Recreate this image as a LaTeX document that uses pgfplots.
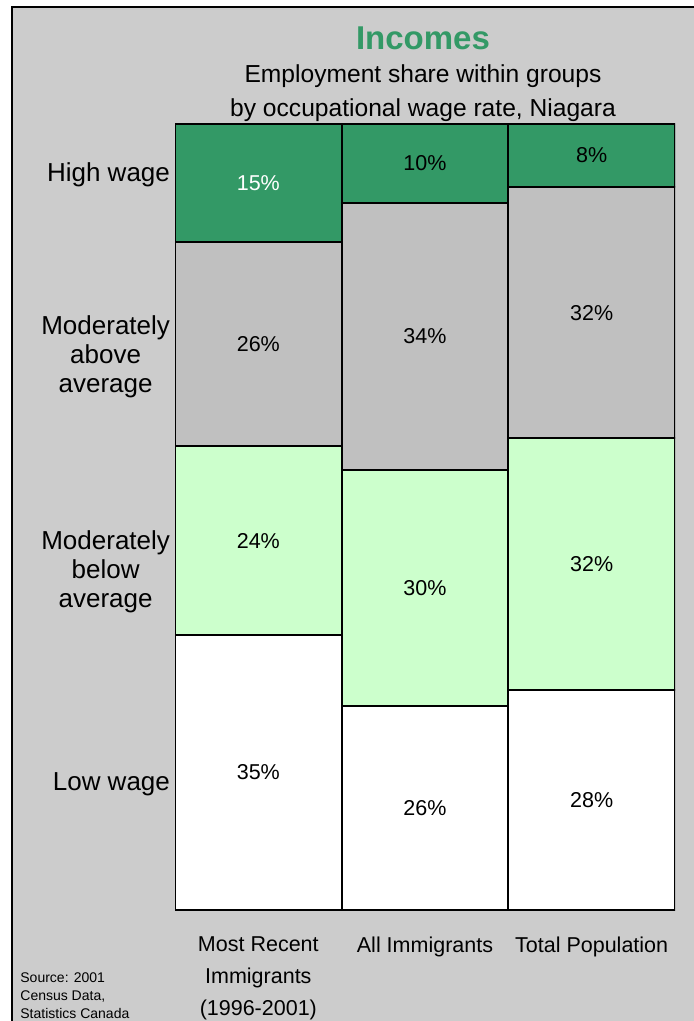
\documentclass[border=0pt]{standalone}
\usepackage{pgfplots}
\pgfplotsset{compat=1.18}
\usepackage{fontspec}
\setmainfont{Liberation Sans}
\definecolor{bggray}{HTML}{CCCCCC}
\definecolor{hiwage}{HTML}{339966}
\definecolor{abovegray}{HTML}{C0C0C0}
\definecolor{belowgreen}{HTML}{CCFFCC}
\begin{document}
\begin{tikzpicture}
\useasboundingbox (0pt,0pt) rectangle (347pt,-510.5pt);
\clip (0pt,0pt) rectangle (347pt,-510.5pt);
\fill[white] (0pt,0pt) rectangle (347pt,-510.5pt);
\draw[fill=bggray, line width=1pt] (6pt,-3.5pt) rectangle (360pt,-530pt);
\begin{axis}[
  at={(87.5pt,-455pt)}, anchor=south west,
  scale only axis, width=250pt, height=393pt,
  ybar stacked, bar width=1,
  xmin=-0.5, xmax=2.5, ymin=0, ymax=100,
  axis line style={draw=none}, tick style={draw=none},
  xtick={0,1,2},
  xticklabels={{Most Recent\\Immigrants\\(1996-2001)},{All Immigrants},{Total Population}},
  xticklabel style={align=center, anchor=north, yshift=-10pt, font=\fontsize{10.75}{15.8}\selectfont},
  ytick={16,43,70.4,93.5},
  yticklabels={{Low wage},{Moderately\\below\\average},{Moderately\\above\\average},{High wage}},
  yticklabel style={align=center, anchor=east, xshift=1pt, font=\fontsize{13}{14.5}\selectfont},
]
\addplot[fill=white, draw=black, line width=1pt] coordinates {(0,35) (1,26) (2,28)};
\addplot[fill=belowgreen, draw=black, line width=1pt] coordinates {(0,24) (1,30) (2,32)};
\addplot[fill=abovegray, draw=black, line width=1pt] coordinates {(0,26) (1,34) (2,32)};
\addplot[fill=hiwage, draw=black, line width=1pt] coordinates {(0,15) (1,10) (2,8)};
\end{axis}
\begin{axis}[
  at={(87.5pt,-455pt)}, anchor=south west,
  scale only axis, width=250pt, height=393pt,
  xmin=-0.5, xmax=2.5, ymin=0, ymax=100,
  hide axis,
  nodes near coords, point meta=explicit symbolic,
  every node near coord/.style={anchor=center, font=\fontsize{10.75}{13}\selectfont},
]
\addplot[draw=none, mark=none] coordinates {
  (0,17.5)[35\%] (0,47)[24\%] (0,72)[26\%]
  (1,13)[26\%] (1,41)[30\%] (1,73)[34\%] (1,95)[10\%]
  (2,14)[28\%] (2,44)[32\%] (2,76)[32\%] (2,96)[8\%]
};
\addplot[draw=none, mark=none, every node near coord/.append style={text=white}] coordinates {(0,92.5)[15\%]};
\end{axis}
\node[text=hiwage, font=\bfseries\fontsize{16.5}{19}\selectfont] at (211.5pt,-19pt) {Incomes};
\node[font=\fontsize{12.3}{15}\selectfont] at (211.5pt,-38pt) {Employment share within groups};
\node[font=\fontsize{12.3}{15}\selectfont] at (211.5pt,-55pt) {by occupational wage rate, Niagara};
\node[anchor=north west, align=left, inner sep=0pt, font=\fontsize{7}{9}\selectfont] at (10pt,-486pt) {Source: 2001\\Census Data,\\Statistics Canada};
\end{tikzpicture}
\end{document}
